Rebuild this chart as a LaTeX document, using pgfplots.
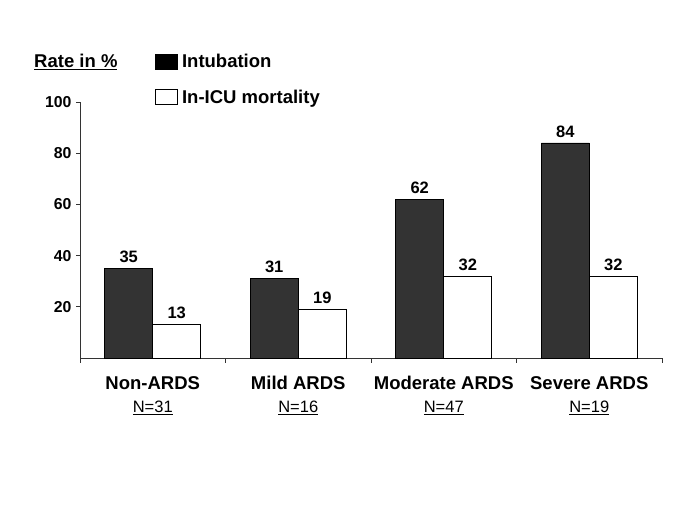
\documentclass[border=0pt]{standalone}
\usepackage{pgfplots}
\pgfplotsset{compat=1.18}
\usepackage{fontspec}
\setmainfont{Liberation Sans}
\begin{document}
\begin{tikzpicture}
\path[use as bounding box] (0,0) rectangle (685pt,513pt);
\begin{axis}[
  at={(80pt,155pt)}, anchor=south west,
  scale only axis, width=582pt, height=256pt,
  ybar=0pt, bar width=48pt,
  xmin=-0.5, xmax=3.5, ymin=0, ymax=100,
  axis x line*=bottom, axis y line*=left,
  axis line style={line width=0.8pt, black!80},
  xtick={0,1,2,3},
  xticklabels={
    {\bfseries Non-ARDS\\[2pt]\fontsize{16.5}{20}\selectfont\mdseries\underline{N=31}},
    {\bfseries Mild ARDS\\[2pt]\fontsize{16.5}{20}\selectfont\mdseries\underline{N=16}},
    {\bfseries Moderate ARDS\\[2pt]\fontsize{16.5}{20}\selectfont\mdseries\underline{N=47}},
    {\bfseries Severe ARDS\\[2pt]\fontsize{16.5}{20}\selectfont\mdseries\underline{N=19}}},
  xticklabel style={align=center, yshift=-11pt, font=\fontsize{18.5}{21}\selectfont},
  major x tick style={draw=none},
  minor xtick={-0.5,0.5,1.5,2.5,3.5},
  minor tick length=5pt,
  minor x tick style={line width=0.6pt, black!80},
  xtick pos=bottom, tick align=outside,
  ytick={20,40,60,80,100},
  ytick pos=left,
  major tick length=4pt,
  y tick style={line width=0.6pt, black!80},
  yticklabel style={font=\fontsize{15.8}{18}\selectfont\bfseries, xshift=-1pt},
  /pgf/number format/assume math mode=true,
  nodes near coords,
  nodes near coords style={font=\fontsize{16.5}{19}\selectfont\bfseries, black, yshift=2pt},
  legend style={at={(axis description cs:0.129,1.196)}, anchor=north west,
    draw=none, fill=none, font=\fontsize{18.5}{22}\selectfont\bfseries,
    row sep=17pt, inner sep=0pt,
    /tikz/every odd column/.append style={column sep=2pt}},
  legend cell align=left,
  clip=false,
]
\addplot[fill=black!80, draw=black, line width=0.6pt,
  legend image code/.code={\draw[fill=black, draw=black] (0pt,-7.5pt) rectangle (22pt,7.5pt);}]
  coordinates {(0,35) (1,31) (2,62) (3,84)};
\addplot[fill=white, draw=black, line width=0.6pt,
  legend image code/.code={\draw[fill=white, draw=black, line width=0.8pt] (0pt,-7.5pt) rectangle (22pt,7.5pt);}]
  coordinates {(0,13) (1,19) (2,32) (3,32)};
\legend{Intubation, In-ICU mortality}
\node[anchor=base west, font=\fontsize{18.5}{22}\selectfont\bfseries, inner sep=0pt]
  at (axis description cs:-0.079,1.134) {\underline{Rate in \%}};
\end{axis}
\end{tikzpicture}
\end{document}
